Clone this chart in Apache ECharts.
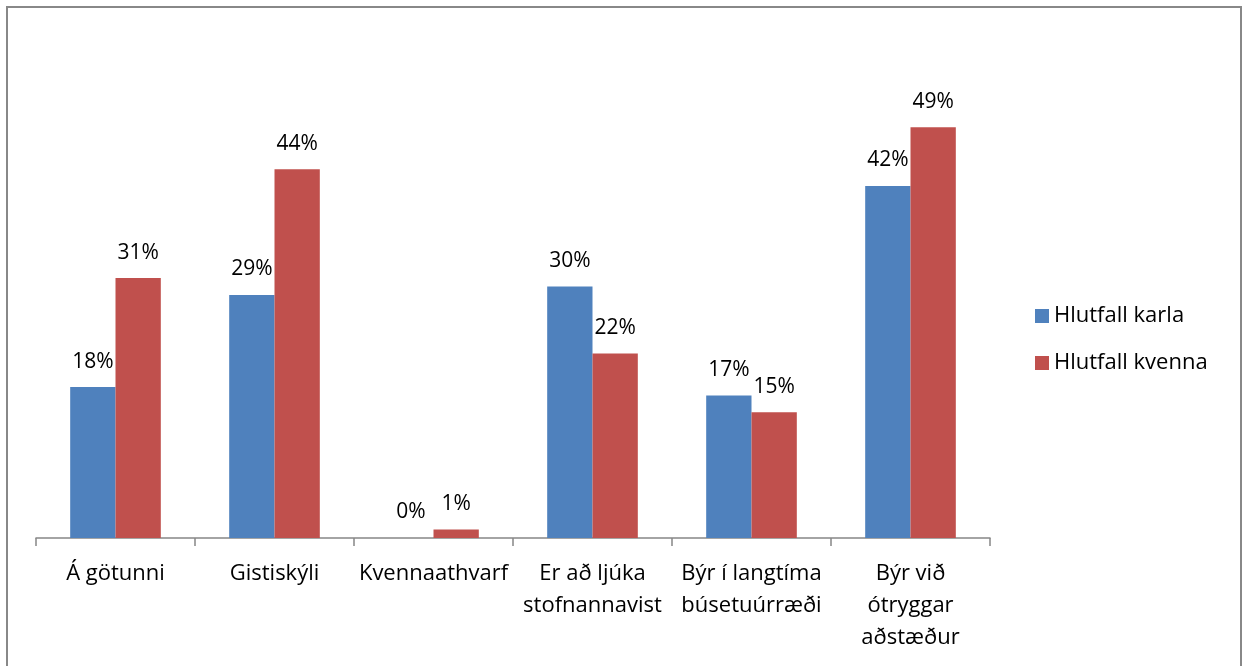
<!DOCTYPE html>
<html>
<head>
<meta charset="utf-8">
<script src="https://cdn.jsdelivr.net/npm/echarts@6/dist/echarts.min.js"></script>
<style>
  html, body { margin: 0; padding: 0; background: #fff; }
  #chart { width: 1244px; height: 666px; }
</style>
</head>
<body>
<div id="chart"></div>
<script>
// flokkar og gildi
var categories = ['Á götunni', 'Gistiskýli', 'Kvennaathvarf', 'Er að ljúka\nstofnannavist', 'Býr í langtíma\nbúsetuúrræði', 'Býr við\nótryggar\naðstæður'];
var karla = [18, 29, 0, 30, 17, 42];
var kvenna = [31, 44, 1, 22, 15, 49];
var seriesNames = ['Hlutfall karla', 'Hlutfall kvenna'];

var font = '"Open Sans", "Noto Sans", sans-serif';

var myChart = echarts.init(document.getElementById('chart'));

var labelStyle = {
    show: true,
    position: 'top',
    distance: 15,
    formatter: '{c}%',
    color: '#000',
    fontSize: 21,
    fontFamily: font
};

option = {
    backgroundColor: '#fff',
    animation: false,
    grid: { left: 36, right: 254, top: 35, bottom: 128 },
    legend: {
        orient: 'vertical',
        left: 1030,
        top: 300,
        itemWidth: 14,
        itemHeight: 14,
        itemGap: 25,
        icon: 'rect',
        textStyle: { fontSize: 22, fontFamily: font, color: '#000' },
        data: seriesNames
    },
    xAxis: {
        type: 'category',
        data: categories,
        axisLine: { lineStyle: { color: '#868686', width: 1.5 } },
        axisTick: { show: true, length: 8, lineStyle: { color: '#868686', width: 1.5 } },
        axisLabel: {
            color: '#000',
            fontSize: 22,
            fontFamily: font,
            lineHeight: 32,
            margin: 20,
            interval: 0
        }
    },
    yAxis: {
        type: 'value',
        min: 0,
        max: 60,
        show: false,
        splitLine: { show: false }
    },
    graphic: [{
        type: 'rect',
        shape: { x: 7, y: 7, width: 1234, height: 680 },
        style: { fill: 'none', stroke: '#888', lineWidth: 2 },
        silent: true
    }],
    series: [
        {
            name: seriesNames[0],
            type: 'bar',
            data: karla,
            barGap: '0%',
            barCategoryGap: '43%',
            itemStyle: { color: '#4F81BD' },
            label: labelStyle
        },
        {
            name: seriesNames[1],
            type: 'bar',
            data: kvenna,
            itemStyle: { color: '#C0504D' },
            label: labelStyle
        }
    ]
};
myChart.setOption(option);
</script>
</body>
</html>
